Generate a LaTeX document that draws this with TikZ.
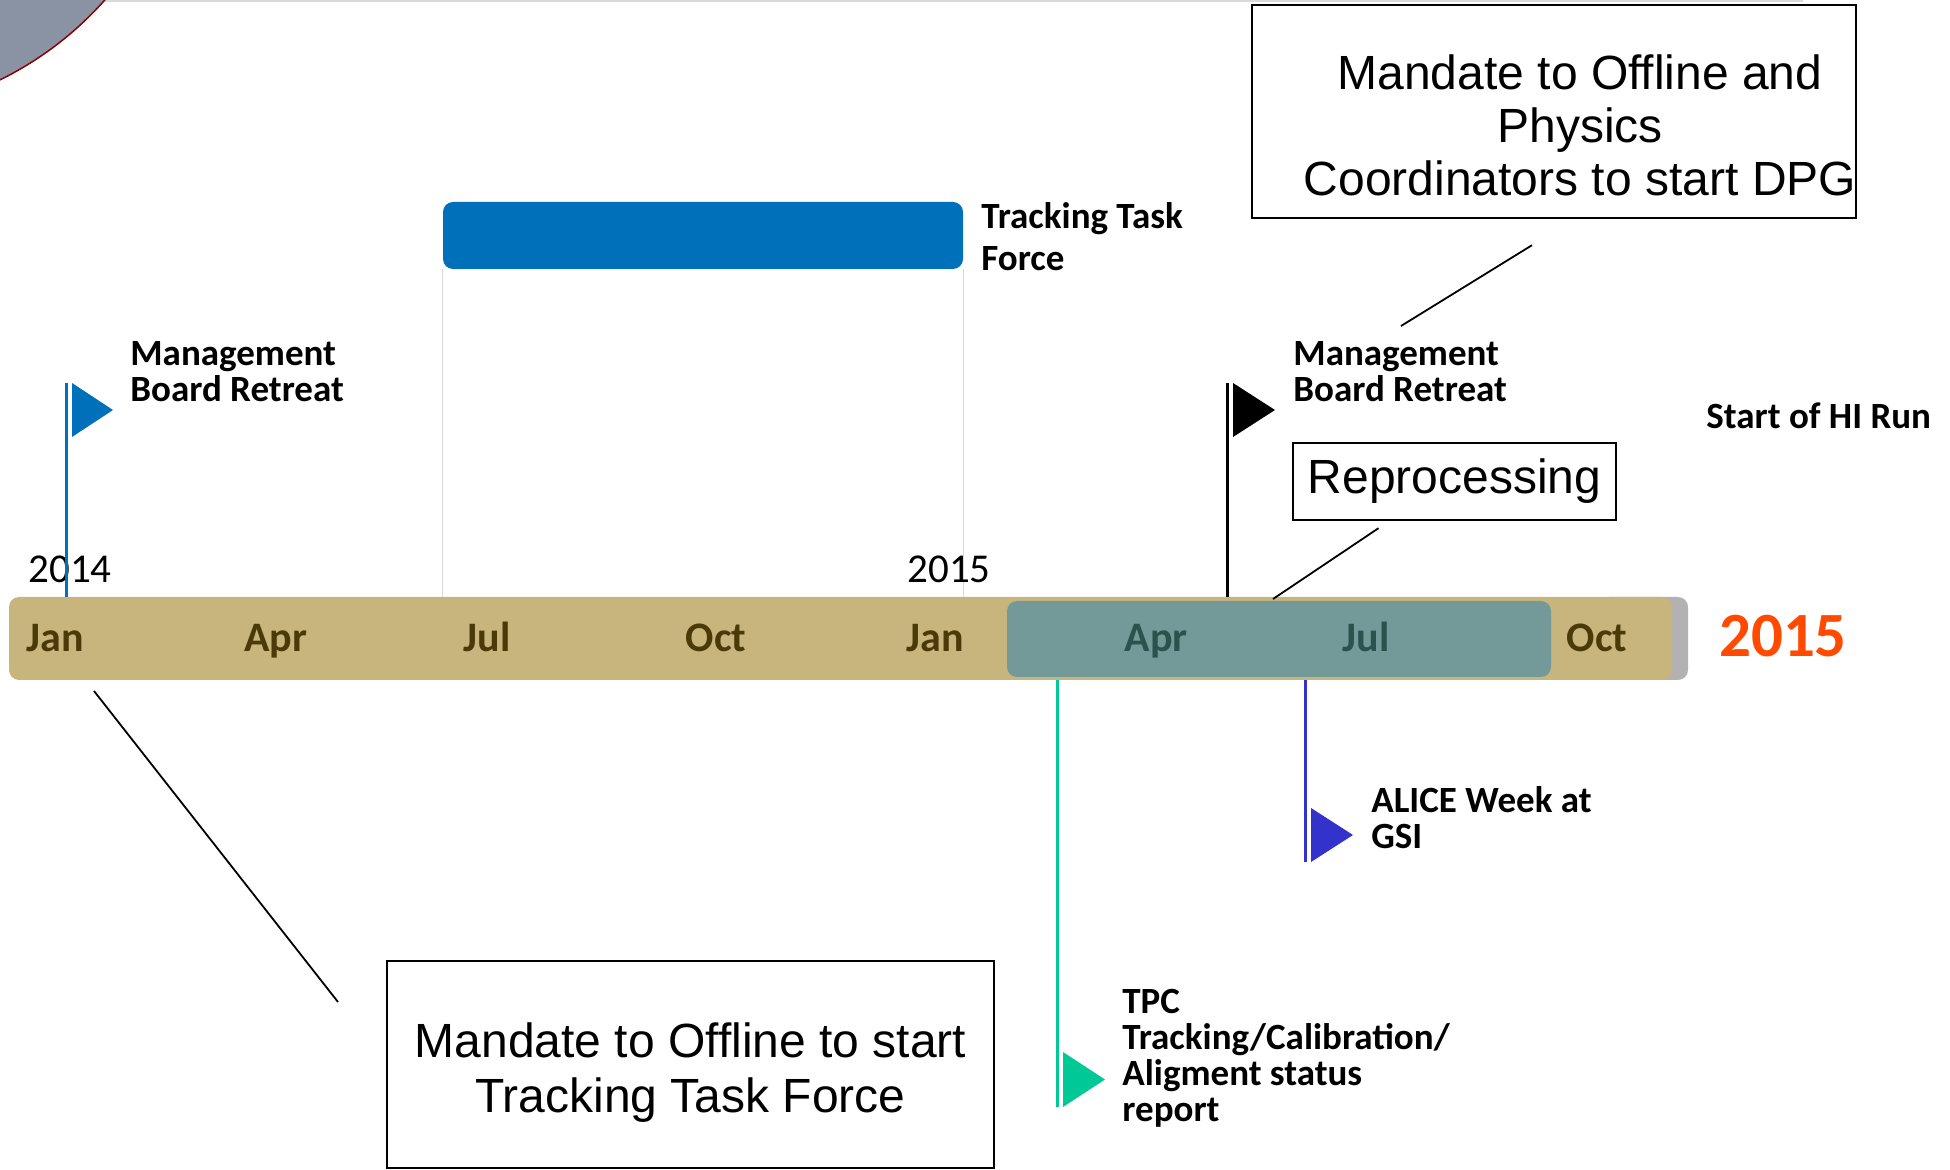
\documentclass[tikz,border=0pt]{standalone}
\usepackage{fontspec}
\setmainfont{Liberation Sans}
\newfontfamily\calibri{Carlito}
\usetikzlibrary{positioning}

\definecolor{bartan}{RGB}{200,181,126}
\definecolor{monthbrown}{RGB}{74,58,8}
\definecolor{tealbar}{RGB}{115,154,152}
\definecolor{tealtext}{RGB}{45,82,78}
\definecolor{endgray}{RGB}{178,178,178}
\definecolor{ttfblue}{RGB}{0,112,186}
\definecolor{yearred}{RGB}{255,74,0}
\definecolor{flaggreen}{RGB}{0,200,150}
\definecolor{flagpurple}{RGB}{51,51,204}
\definecolor{circlegray}{RGB}{138,147,163}
\definecolor{circlered}{RGB}{140,0,0}
\definecolor{gridgray}{RGB}{217,217,217}

\begin{document}
\begin{tikzpicture}[x=0.5pt, y=-0.5pt,
    month/.style={font=\calibri\bfseries\fontsize{21}{21}\selectfont, text=monthbrown, anchor=base, inner sep=0pt},
    event/.style={font=\calibri\bfseries\fontsize{18.5}{18}\selectfont, align=left, anchor=west, inner sep=0pt},
    year/.style={font=\calibri\fontsize{20.5}{20.5}\selectfont, anchor=base, inner sep=0pt},
    mandate/.style={draw, line width=1.2pt, font=\fontsize{24}{26.5}\selectfont, align=center, inner sep=0pt},
    pole/.style={line width=1.5pt},
    leader/.style={line width=0.9pt}]

    \useasboundingbox (0,0) rectangle (1950,1170);

    % Slide corner
    \draw[gridgray, line width=1pt] (0,1) -- (1803,1);
    \filldraw[fill=circlegray, draw=circlered, line width=0.75pt] (-150,-226) circle (340.6);

    % Define the bars
    \node[fill=ttfblue, rounded corners=5pt, minimum width=260pt, minimum height=33.5pt, inner sep=0pt] (ttf_bar) at (703,235.5) {};
    \node[fill=endgray, rounded corners=5pt, minimum width=44pt, minimum height=41.5pt, inner sep=0pt] (bar_end) at (1644,638.5) {};
    \node[fill=bartan, rounded corners=5pt, minimum width=831.5pt, minimum height=41.5pt, inner sep=0pt] (timeline) at (840.5,638.5) {};
    \node[fill=tealbar, rounded corners=5pt, minimum width=272pt, minimum height=38pt, inner sep=0pt] (run_bar) at (1279,639) {};

    % Guide lines of the task force
    \draw[gridgray, line width=0.75pt] (ttf_bar.south west) -- (ttf_bar.south west |- timeline.north);
    \draw[gridgray, line width=0.75pt] (ttf_bar.south east) -- (ttf_bar.south east |- timeline.north);

    % Months and years
    \node[month] (jan1) at (55,652) {Jan};
    \node[month] (apr1) at (276,652) {Apr};
    \node[month] (jul1) at (487,652) {Jul};
    \node[month] (oct1) at (716,652) {Oct};
    \node[month] (jan2) at (935,652) {Jan};
    \node[month, text=tealtext] (apr2) at (1156,652) {Apr};
    \node[month, text=tealtext] (jul2) at (1366,652) {Jul};
    \node[month] (oct2) at (1597,652) {Oct};
    \node[year] (year2014) at (70,583) {2014};
    \node[year] (year2015) at (949,583) {2015};
    \node[month, text=yearred, font=\calibri\bfseries\fontsize{31.5}{31.5}\selectfont] (year_big) at (1783,657) {2015};

    % Flags
    \coordinate (flag1_top) at (66,383);
    \coordinate (flag2_top) at (1227,383);
    \coordinate (flag3_bot) at (1057,1107);
    \coordinate (flag4_bot) at (1305,862);
    \draw[pole, ttfblue] (flag1_top) -- (flag1_top |- timeline.north);
    \fill[ttfblue] (flag1_top) ++(6,0) -- ++(0,54) -- ++(41,-27) -- cycle;
    \draw[pole, black] (flag2_top) -- (flag2_top |- timeline.north);
    \fill[black] (flag2_top) ++(6,0) -- ++(0,54) -- ++(42,-27) -- cycle;
    \draw[pole, flaggreen] (flag3_bot) -- (flag3_bot |- timeline.south);
    \fill[flaggreen] (flag3_bot) ++(6,0) -- ++(0,-55) -- ++(42,27.5) -- cycle;
    \draw[pole, flagpurple] (flag4_bot) -- (flag4_bot |- timeline.south);
    \fill[flagpurple] (flag4_bot) ++(6,0) -- ++(0,-54) -- ++(42,27) -- cycle;

    % Event labels
    \node[event] (mb_retreat1) at (130,372) {Management\\Board Retreat};
    \node[event] (mb_retreat2) at (1293,372) {Management\\Board Retreat};
    \node[event] (start_hi) at (1706,416) {Start of HI Run};
    \node[event, font=\calibri\bfseries\fontsize{18.5}{21}\selectfont] (tracking_tf) at (981,237) {Tracking Task\\Force};
    \node[event] (tpc_report) at (1122,1058) {TPC\\Tracking/Calibration/\\Aligment status\\report};
    \node[event] (alice_week) at (1371,818) {ALICE Week at\\GSI};

    % Call-out boxes
    \node[mandate, minimum width=301pt, minimum height=106.5pt] (dpg_box) at (1554,111.5)
        {\rule{0pt}{31pt}\hspace*{26pt}Mandate to Offline and\\\hspace*{26pt}Physics\\\hspace*{26pt}Coordinators to start DPG};
    \node[mandate, font=\fontsize{24}{24}\selectfont, minimum width=161.5pt, minimum height=38.5pt] (repro_box) at (1454.5,481.5) {Reprocessing};
    \node[mandate, font=\fontsize{24}{27.5}\selectfont, minimum width=303.5pt, minimum height=103.5pt] (mandate_box) at (690.5,1064.5)
        {\rule{0pt}{25pt}Mandate to Offline to start\\Tracking Task Force};

    % Draw the leaders
    \coordinate (dpg_end) at (1401,326);
    \coordinate (repro_end) at (1273,599);
    \coordinate (mandate_start) at (94,691);
    \coordinate (mandate_end) at (338,1002);
    \draw[leader] (dpg_box.south) ++(-22,26) -- (dpg_end);
    \draw[leader] (repro_box.south) ++(-76,7) -- (repro_end);
    \draw[leader] (mandate_start) -- (mandate_end);
\end{tikzpicture}
\end{document}
